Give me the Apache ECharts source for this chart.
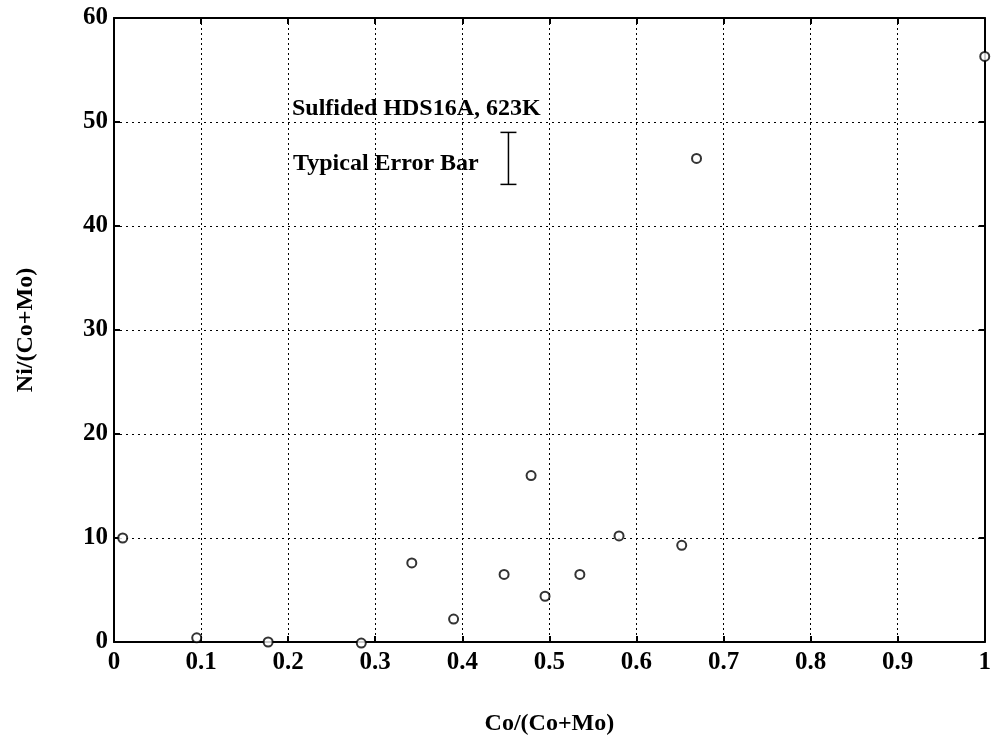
<!doctype html>
<html>
<head>
    <meta charset="UTF-8">
    <title>Ni/(Co+Mo) vs Co/(Co+Mo)</title>
    <script src="https://cdn.jsdelivr.net/npm/echarts@6/dist/echarts.min.js"></script>
</head>
<body style="margin:0;background:#fff">
<div id="main" style="width:994px;height:741px"></div>
<script type="text/javascript">
    // 数据点 Co/(Co+Mo), Ni/(Co+Mo)
    var coRatio = [0.010, 0.095, 0.177, 0.284, 0.342, 0.390, 0.448, 0.479, 0.495, 0.535, 0.580, 0.652, 0.669, 1.000];
    var niRatio = [10.0, 0.4, 0.0, -0.1, 7.6, 2.2, 6.5, 16.0, 4.4, 6.5, 10.2, 9.3, 46.5, 56.3];
    // typical error bar: x, low, high
    var errorBar = [[0.453, 44, 49]];

    var points = [];
    for (var i = 0; i < coRatio.length; i++) {
        points.push([coRatio[i], niRatio[i]]);
    }

    var font = 'Liberation Serif';
    var myChart = echarts.init(document.getElementById('main'));
    var option = {
        backgroundColor: '#fff',
        animation: false,
        grid: {left: 114, right: 3, top: 18, bottom: 92},
        xAxis: [
            {
                type: 'value', min: 0, max: 1, interval: 0.1,
                name: 'Co/(Co+Mo)', nameLocation: 'middle', nameGap: 70,
                nameTextStyle: {fontFamily: font, fontWeight: 'bold', fontSize: 24, color: '#000'},
                axisLine: {onZero: false, lineStyle: {color: '#000', width: 2}},
                axisTick: {inside: true, length: 6, lineStyle: {color: '#000', width: 2}},
                axisLabel: {
                    fontFamily: font, fontWeight: 'bold', fontSize: 25, color: '#000', margin: 8,
                    formatter: function (v) { return v === 0 ? '0' : (v === 1 ? '1' : v.toFixed(1)); }
                },
                splitLine: {show: true, lineStyle: {color: '#000', type: [2, 3], width: 1}}
            },
            {
                type: 'value', min: 0, max: 1, interval: 0.1, position: 'top',
                axisLine: {onZero: false, lineStyle: {color: '#000', width: 2}},
                axisTick: {inside: true, length: 6, lineStyle: {color: '#000', width: 2}},
                axisLabel: {show: false},
                splitLine: {show: false}
            }
        ],
        yAxis: [
            {
                type: 'value', min: 0, max: 60, interval: 10,
                name: 'Ni/(Co+Mo)', nameLocation: 'middle', nameGap: 76,
                nameTextStyle: {fontFamily: font, fontWeight: 'bold', fontSize: 24, color: '#000'},
                axisLine: {onZero: false, lineStyle: {color: '#000', width: 2}},
                axisTick: {inside: true, length: 6, lineStyle: {color: '#000', width: 2}},
                axisLabel: {fontFamily: font, fontWeight: 'bold', fontSize: 25, color: '#000', margin: 6},
                splitLine: {show: true, lineStyle: {color: '#000', type: [2, 4], width: 1}}
            },
            {
                type: 'value', min: 0, max: 60, interval: 10, position: 'right',
                axisLine: {onZero: false, lineStyle: {color: '#000', width: 2}},
                axisTick: {inside: true, length: 6, lineStyle: {color: '#000', width: 2}},
                axisLabel: {show: false},
                splitLine: {show: false}
            }
        ],
        series: [
            {
                type: 'scatter',
                data: points,
                symbol: 'emptyCircle',
                symbolSize: 9,
                clip: false,
                itemStyle: {color: '#000', borderColor: '#000', borderWidth: 2.5}
            },
            {
                type: 'custom',
                data: errorBar,
                renderItem: function (params, api) {
                    var lo = api.coord([api.value(0), api.value(1)]);
                    var hi = api.coord([api.value(0), api.value(2)]);
                    var w = 8;
                    return {
                        type: 'group',
                        children: [
                            {type: 'line', shape: {x1: lo[0], y1: lo[1], x2: hi[0], y2: hi[1]}, style: {stroke: '#000', lineWidth: 1.5}},
                            {type: 'line', shape: {x1: lo[0] - w, y1: lo[1], x2: lo[0] + w, y2: lo[1]}, style: {stroke: '#000', lineWidth: 1.5}},
                            {type: 'line', shape: {x1: hi[0] - w, y1: hi[1], x2: hi[0] + w, y2: hi[1]}, style: {stroke: '#000', lineWidth: 1.5}}
                        ]
                    };
                }
            }
        ],
        graphic: [
            {
                type: 'text', left: 292, top: 97,
                style: {text: 'Sulfided HDS16A, 623K', fontFamily: font, fontWeight: 'bold', fontSize: 24, fill: '#000'}
            },
            {
                type: 'text', left: 293, top: 152,
                style: {text: 'Typical Error Bar', fontFamily: font, fontWeight: 'bold', fontSize: 24, fill: '#000'}
            }
        ]
    };
    myChart.setOption(option);
</script>
</body>
</html>
